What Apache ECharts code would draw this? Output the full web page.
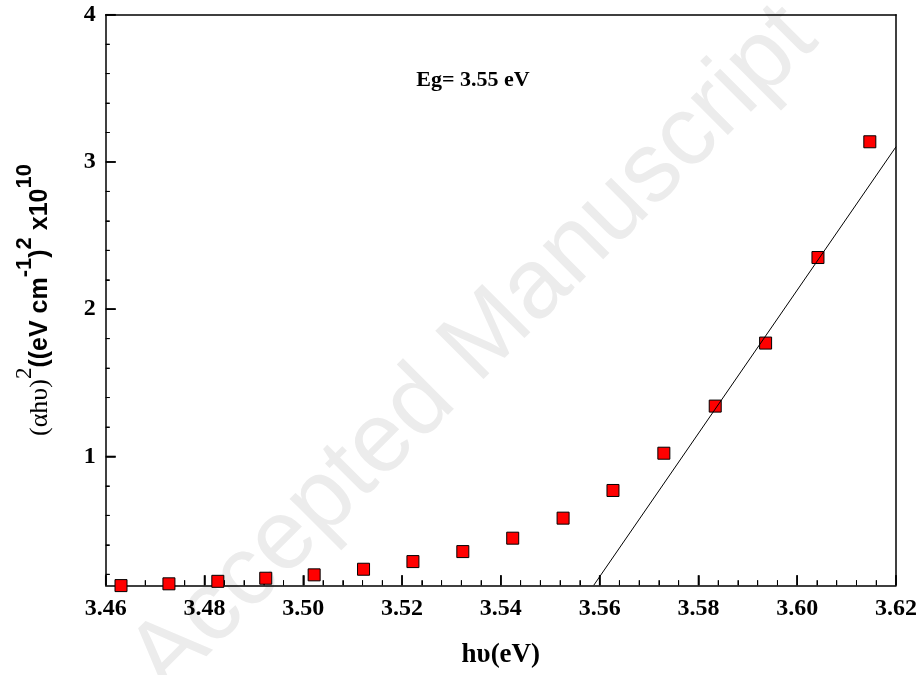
<!DOCTYPE html>
<html><head><meta charset="utf-8">
<script src="https://cdn.jsdelivr.net/npm/echarts@6/dist/echarts.min.js"></script>
<style>html,body{margin:0;padding:0;background:#fff}#c{width:920px;height:675px}</style>
</head><body><div id="c"></div>
<script>
// Data
const photonEnergy = [3.4631, 3.4728, 3.4827, 3.4924, 3.5022, 3.5122, 3.5222, 3.5323, 3.5424, 3.5526, 3.5627, 3.5730, 3.5834, 3.5936, 3.6042, 3.6147];
const absorptionSq = [0.123, 0.135, 0.152, 0.173, 0.196, 0.234, 0.286, 0.354, 0.445, 0.581, 0.769, 1.022, 1.342, 1.770, 2.351, 3.137];
const fitLineX = [3.5588, 3.62];
const fitLineY = [0.125, 3.103];
const xTicks = [3.46, 3.48, 3.50, 3.52, 3.54, 3.56, 3.58, 3.60, 3.62];
const yMajorTicks = [1, 2, 3, 4];
const yMinorTicks = [0.2, 0.4, 0.6, 0.8, 1.2, 1.4, 1.6, 1.8, 2.2, 2.4, 2.6, 2.8, 3.2, 3.4, 3.6, 3.8];
const annotationText = 'Eg= 3.55 eV';
const watermarkText = 'Accepted Manuscript';

const SERIF = '"Liberation Serif", "Times New Roman", serif';
const SANS = '"Liberation Sans", Arial, sans-serif';
const X_MIN = xTicks[0], X_MAX = xTicks[xTicks.length - 1];
const Y_MIN = 0.125, Y_MAX = 4;

// minor x ticks: 4 subdivisions between major ticks
const xMinorTicks = [];
for (let i = 0; i < xTicks.length - 1; i++) {
  for (let k = 1; k < 5; k++) xMinorTicks.push(+(xTicks[i] + (xTicks[i + 1] - xTicks[i]) * k / 5).toFixed(4));
}

const chart = echarts.init(document.getElementById('c'), null, {renderer: 'canvas'});
const scatterData = photonEnergy.map((x, i) => [x, absorptionSq[i]]);
const lineData = fitLineX.map((x, i) => [x, fitLineY[i]]);
const blackLine = {show: true, onZero: false, lineStyle: {color: '#000', width: 1.5}};

// inward tick marks placed through the axes' own scales (thin rect symbols)
function tickSeries(values, isX, len, width) {
  return {
    type: 'scatter', silent: true, clip: false, z: 5,
    data: values.map(v => isX ? [v, Y_MIN] : [X_MIN, v]),
    symbol: 'rect',
    symbolSize: isX ? [width, len] : [len, width],
    symbolOffset: isX ? [0, -len / 2] : [len / 2, 0],
    itemStyle: {color: '#000', borderWidth: 0, opacity: 1},
    emphasis: {disabled: true}
  };
}

chart.setOption({
  animation: false,
  backgroundColor: '#fff',
  grid: {left: 105.7, right: 20.7, top: 14.7, bottom: 89.7, show: false},
  xAxis: [{
    type: 'value', min: X_MIN, max: X_MAX, interval: 0.02, position: 'bottom',
    axisLine: blackLine,
    axisTick: {show: true, inside: true, length: 10, lineStyle: {color: '#000', width: 1.5}},
    minorTick: {show: true, splitNumber: 5, length: 5, lineStyle: {color: '#000', width: 1}},
    splitLine: {show: false}, minorSplitLine: {show: false},
    axisLabel: {show: true, color: '#000', fontFamily: SERIF, fontWeight: 'bold', fontSize: 24, margin: 11,
      formatter: v => v.toFixed(2)},
    name: 'hυ(eV)', nameLocation: 'middle', nameGap: 56,
    nameTextStyle: {color: '#000', fontFamily: SERIF, fontWeight: 'bold', fontSize: 27}
  }, {
    type: 'value', min: X_MIN, max: X_MAX, position: 'top',
    axisLine: blackLine, axisTick: {show: false}, axisLabel: {show: false}, splitLine: {show: false}
  }],
  yAxis: [{
    type: 'value', min: Y_MIN, max: Y_MAX, position: 'left',
    axisLine: blackLine,
    axisTick: {show: true, inside: true, length: 10, customValues: yMajorTicks, lineStyle: {color: '#000', width: 1.5}},
    splitLine: {show: false},
    axisLabel: {show: true, color: '#000', fontFamily: SERIF, fontWeight: 'bold', fontSize: 24, margin: 10,
      customValues: yMajorTicks, formatter: v => String(v)},
    name: '{a|(αhυ)}{t|2}{b|((eV cm}{s|-1}{b|)}{s|2}{b| x10}{s|10}',
    nameLocation: 'middle', nameRotate: 90, nameGap: 40,
    nameTextStyle: {
      rich: {
        a: {fontFamily: SERIF, fontSize: 26, color: '#000', lineHeight: 52},
        t: {fontFamily: SERIF, fontSize: 23, color: '#000', lineHeight: 8, verticalAlign: 'top'},
        b: {fontFamily: SANS, fontWeight: 'bold', fontSize: 25, color: '#000', lineHeight: 52},
        s: {fontFamily: SANS, fontWeight: 'bold', fontSize: 22, color: '#000', lineHeight: 8, verticalAlign: 'top'}
      }
    }
  }, {
    type: 'value', min: Y_MIN, max: Y_MAX, position: 'right', offset: 0,
    axisLine: blackLine, axisTick: {show: false}, axisLabel: {show: false}, splitLine: {show: false}
  }, {
    type: 'value', min: Y_MIN, max: Y_MAX, position: 'left', offset: 0,
    axisLine: {show: false},
    axisTick: {show: true, inside: true, length: 4, customValues: yMinorTicks, lineStyle: {color: '#000', width: 1}},
    axisLabel: {show: false}, splitLine: {show: false}
  }],
  graphic: [{
    type: 'text', x: 474, y: 350, rotation: Math.PI * 0.25, z: -10, silent: true,
    style: {text: watermarkText, fill: '#ececec', font: 'normal 99px "Liberation Sans", Arial, sans-serif', align: 'center', verticalAlign: 'middle'}
  }, {
    type: 'text', x: 473, y: 80, z: 10,
    style: {text: annotationText, fill: '#000', font: 'bold 22px "Liberation Serif", "Times New Roman", serif', align: 'center', verticalAlign: 'middle'}
  }],
  series: [
    tickSeries(xTicks, true, 10, 1.5),
    tickSeries(xMinorTicks, true, 5, 1),
    tickSeries(yMajorTicks, false, 10, 1.5),
    tickSeries(yMinorTicks, false, 4, 1),
    {
      type: 'scatter', data: scatterData, symbol: 'rect', symbolSize: 12, z: 6, clip: false,
      itemStyle: {color: '#ff0000', borderColor: '#000', borderWidth: 1, opacity: 1}
    }, {
      type: 'line', data: lineData, showSymbol: false, symbol: 'none', z: 7, clip: true,
      lineStyle: {color: '#000', width: 1}
    }
  ]
});
</script></body></html>
